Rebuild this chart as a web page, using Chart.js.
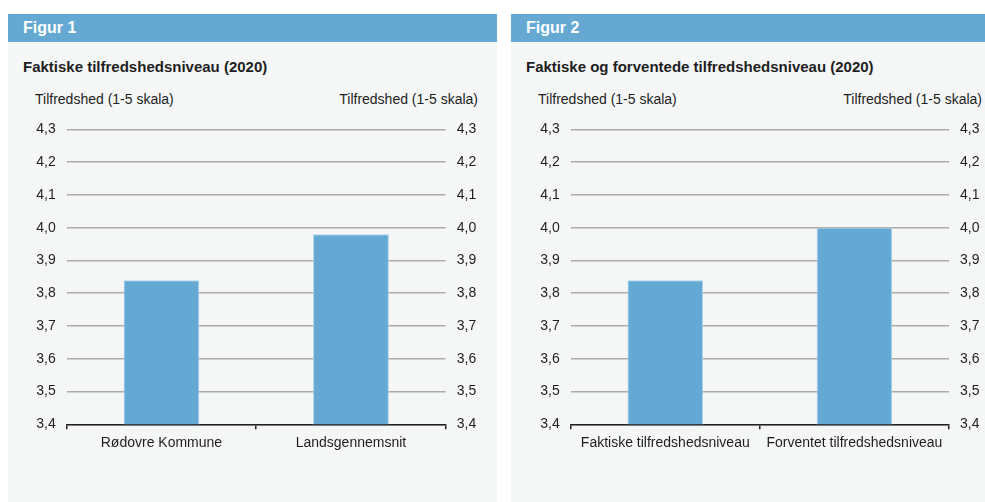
<!DOCTYPE html>
<html>
<head>
<meta charset="utf-8">
<script src="https://cdn.jsdelivr.net/npm/chart.js@4"></script>
<style>
    body { margin: 0; background: #fff; font-family: "Liberation Sans", Arial, sans-serif; color: #1e1e1e; }
    .panel { position: absolute; top: 14px; bottom: 0; background: #f5f7f7; }
    .head { position: absolute; left: 0; right: 0; top: 0; height: 28px; background: #65a9d3; }
    .head span { position: absolute; left: 15px; top: 4px; color: #fff; font-weight: bold; font-size: 16px; line-height: 20px; }
    .title { position: absolute; left: 15px; top: 43px; font-weight: bold; font-size: 15px; line-height: 20px; white-space: nowrap; }
    .ytitle { position: absolute; top: 75px; font-size: 14px; line-height: 20px; white-space: nowrap; }
    canvas { position: absolute; top: 96px; left: 0; }
</style>
</head>
<body>
<div class="panel" style="left:8px; width:489px;">
    <div class="head"><span>Figur 1</span></div>
    <div class="title">Faktiske tilfredshedsniveau (2020)</div>
    <div class="ytitle" style="left:27px;">Tilfredshed (1-5 skala)</div>
    <div class="ytitle" style="right:19px;">Tilfredshed (1-5 skala)</div>
    <canvas id="fig1" width="489" height="392"></canvas>
</div>
<div class="panel" style="left:511px; width:474px;">
    <div class="head"><span>Figur 2</span></div>
    <div class="title">Faktiske og forventede tilfredshedsniveau (2020)</div>
    <div class="ytitle" style="left:27px;">Tilfredshed (1-5 skala)</div>
    <div class="ytitle" style="right:3px;">Tilfredshed (1-5 skala)</div>
    <canvas id="fig2" width="474" height="392"></canvas>
</div>

<script>
// data
const fig1Labels = ['Rødovre Kommune', 'Landsgennemsnit'];
const fig1Values = [3.84, 3.98];

const fig2Labels = ['Faktiske tilfredshedsniveau', 'Forventet tilfredshedsniveau'];
const fig2Values = [3.84, 4.00];

const yMin = 3.4;
const yMax = 4.3;
const yStep = 0.1;

const barColor = '#64a9d4';
const txtColor = '#1e1e1e';
const font14 = { family: '"Liberation Sans", Arial, sans-serif', size: 14 };

function komma(v) {
    return Number(v).toFixed(1).replace('.', ',');
}

function makeChart(id, labels, values, leftW, rightW) {
    const ctx = document.getElementById(id).getContext('2d');
    return new Chart(ctx, {
        type: 'bar',
        data: {
            labels: labels,
            datasets: [{
                data: values,
                backgroundColor: barColor,
                borderColor: '#a9d0ea',
                borderWidth: { top: 1, left: 1, right: 1, bottom: 0 },
                barPercentage: 0.4,
                categoryPercentage: 1.0
            }]
        },
        options: {
            responsive: false,
            animation: false,
            devicePixelRatio: 1,
            layout: { padding: { top: 15.2, left: 0, right: 0, bottom: 0 } },
            plugins: { legend: { display: false }, tooltip: { enabled: false } },
            scales: {
                x: {
                    grid: {
                        offset: true,
                        drawOnChartArea: false,
                        drawTicks: true,
                        tickLength: 5,
                        color: '#222',
                        lineWidth: 1.5
                    },
                    border: { display: true, color: '#222', width: 1.5 },
                    ticks: { color: txtColor, font: font14, padding: 5, maxRotation: 0, autoSkip: false },
                    afterFit: function (scale) { scale.height = 77.7; }
                },
                y: {
                    position: 'left',
                    min: yMin,
                    max: yMax,
                    grid: { color: '#ababab', lineWidth: 1.5, drawTicks: false },
                    border: { display: false },
                    ticks: { stepSize: yStep, color: txtColor, font: font14, padding: 11, callback: komma },
                    afterFit: function (scale) { scale.width = leftW; }
                },
                y2: {
                    position: 'right',
                    min: yMin,
                    max: yMax,
                    grid: { drawOnChartArea: false, drawTicks: false },
                    border: { display: false },
                    ticks: { stepSize: yStep, color: txtColor, font: font14, padding: 11, callback: komma },
                    afterFit: function (scale) { scale.width = rightW; }
                }
            }
        }
    });
}

makeChart('fig1', fig1Labels, fig1Values, 58.7, 51.3);
makeChart('fig2', fig2Labels, fig2Values, 59.7, 36);
</script>
</body>
</html>
